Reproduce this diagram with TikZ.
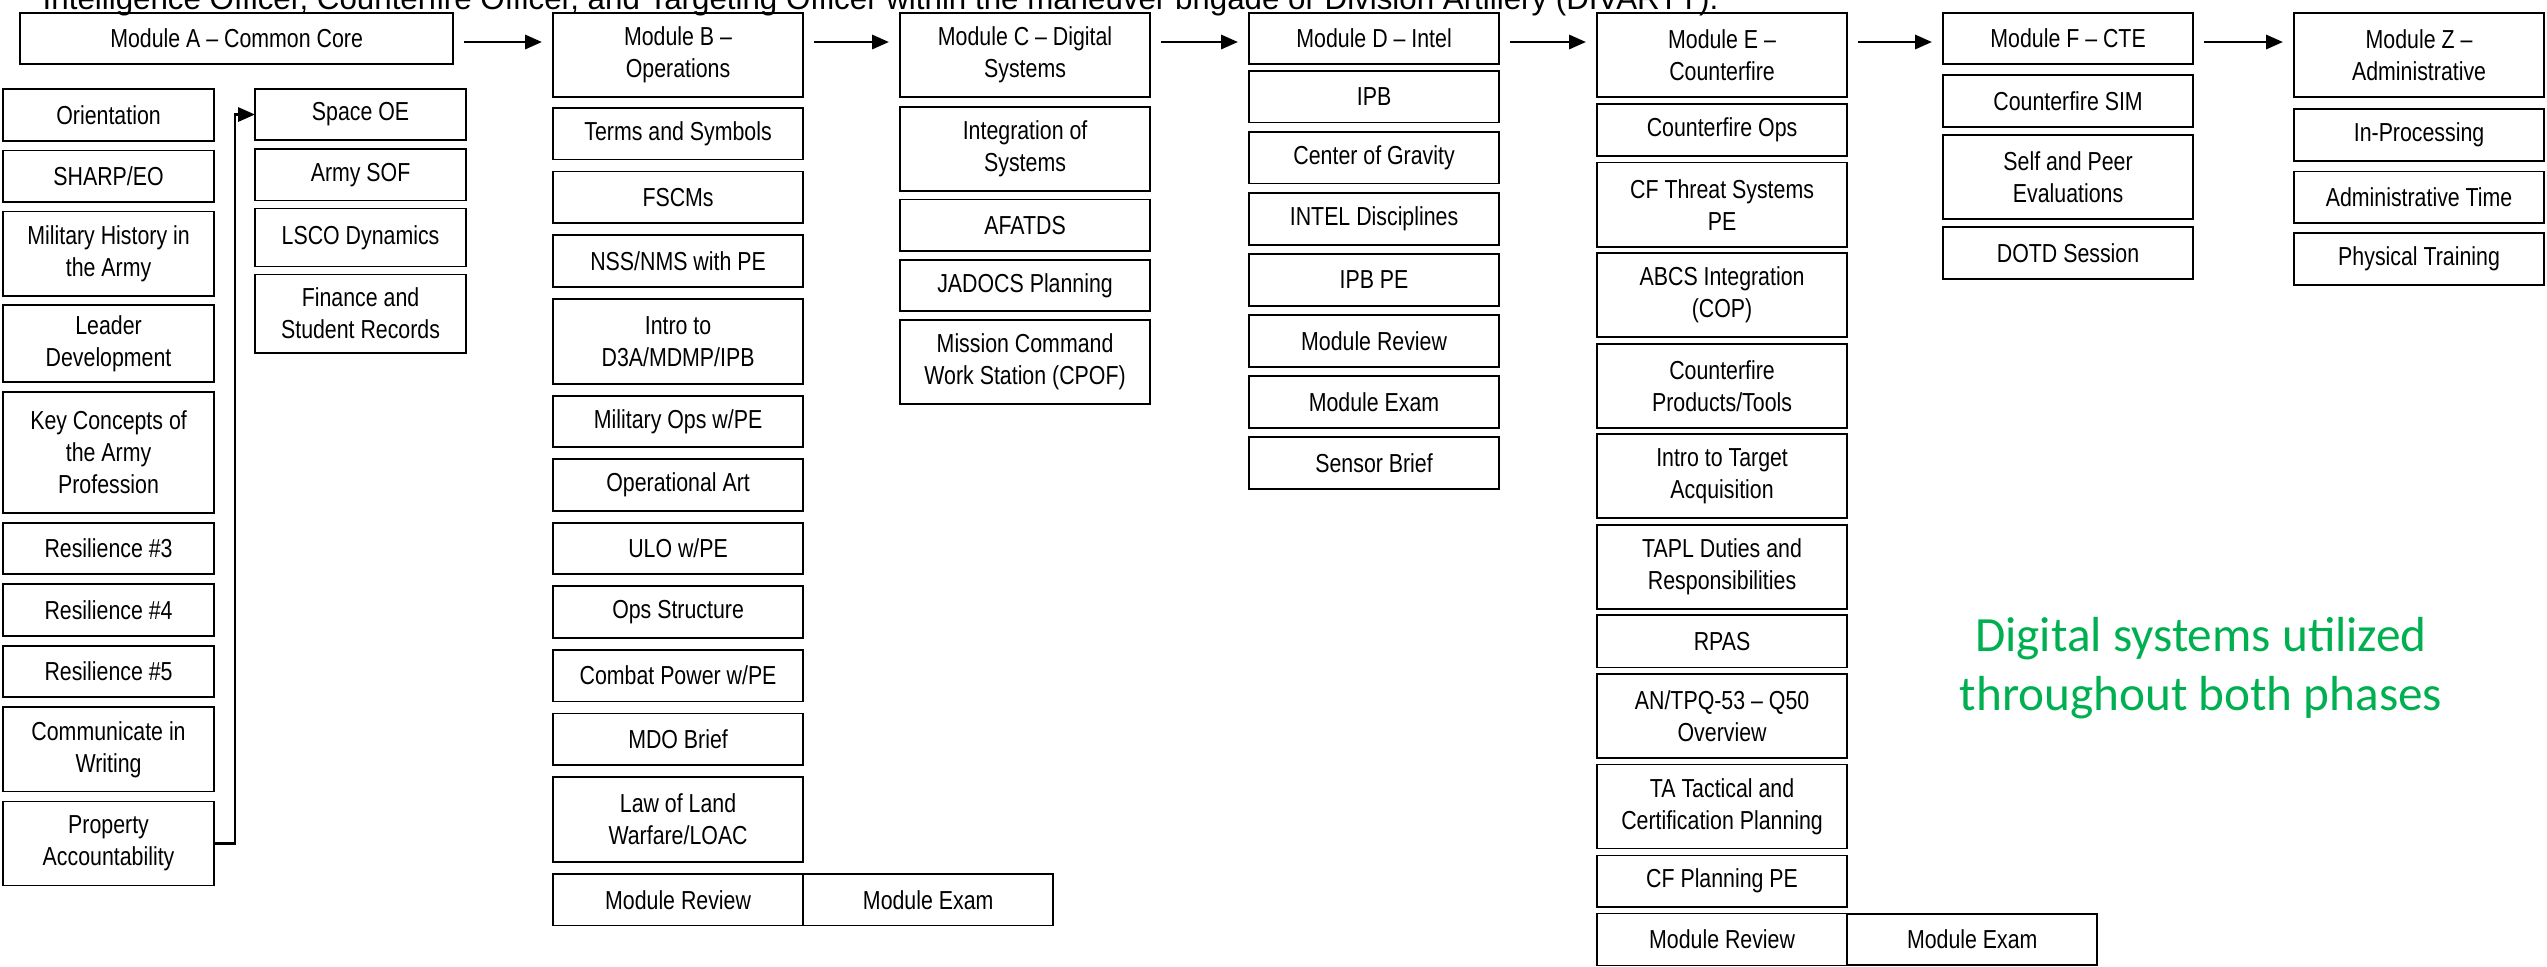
\documentclass[tikz,border=0pt]{standalone}
\usepackage{fontspec}
\newfontfamily\boxfont[FakeStretch=0.82]{Liberation Sans}
\newfontfamily\headfont{Liberation Sans}
\newfontfamily\notefont{Carlito}
\usepackage{xcolor}
\definecolor{NoteGreen}{HTML}{00B050}
\usetikzlibrary{positioning, calc, arrows.meta}
\tikzset{
  modulebox/.style={rectangle, draw=black, line width=0.5pt, outer sep=0pt, minimum width=2.5cm, minimum height=0.51cm, inner sep=1pt, align=center, font=\boxfont\fontsize{7.4}{9.1}\selectfont},
  topicbox/.style={rectangle, draw=black, line width=0.5pt, outer sep=0pt, minimum width=2.5cm, minimum height=0.515cm, inner sep=1pt, align=center, font=\boxfont\fontsize{7.4}{9.1}\selectfont},
  twoline/.style={minimum height=0.84cm},
  narrowcol/.style={minimum width=2.11cm},
  flowarrow/.style={-{Triangle[length=4.8pt, width=4pt]}, line width=0.8pt, shorten <=0.11cm, shorten >=0.11cm},
  linkarrow/.style={-{Triangle[length=4.8pt, width=4pt]}, line width=0.75pt}
}

\begin{document}
\begin{tikzpicture}[x=0.01cm, y=0.01cm]
  \useasboundingbox (0,0) rectangle (2547,-966);
  \clip (0,0) rectangle (2547,-966);

  \node[anchor=base west, inner sep=0pt, font=\headfont\fontsize{8.9}{10.7}\selectfont] (header) at (42,-9) {Intelligence Officer, Counterfire Officer, and Targeting Officer within the maneuver brigade or Division Artillery (DIVARTY).};

  % module headers
  \node[modulebox, anchor=north west, minimum width=4.33cm] (modA) at (20,-13) {Module A – Common Core};
  \node[modulebox, twoline, anchor=north west] (modB) at (553,-13) {Module B –\\Operations};
  \node[modulebox, twoline, anchor=north west] (modC) at (900,-13) {Module C – Digital\\Systems};
  \node[modulebox, anchor=north west] (modD) at (1249,-13) {Module D – Intel};
  \node[modulebox, twoline, anchor=north west] (modE) at (1597,-13) {Module E –\\Counterfire};
  \node[modulebox, anchor=north west] (modF) at (1943,-13) {Module F – CTE};
  \node[modulebox, twoline, anchor=north west] (modZ) at (2294,-13) {Module Z –\\Administrative};

  \draw[flowarrow] ($(modA.north east)+(0,-29)$) -- ($(modB.north west)+(0,-29)$);
  \draw[flowarrow] ($(modB.north east)+(0,-29)$) -- ($(modC.north west)+(0,-29)$);
  \draw[flowarrow] ($(modC.north east)+(0,-29)$) -- ($(modD.north west)+(0,-29)$);
  \draw[flowarrow] ($(modD.north east)+(0,-29)$) -- ($(modE.north west)+(0,-29)$);
  \draw[flowarrow] ($(modE.north east)+(0,-29)$) -- ($(modF.north west)+(0,-29)$);
  \draw[flowarrow] ($(modF.north east)+(0,-29)$) -- ($(modZ.north west)+(0,-29)$);

  % module A
  \node[topicbox, narrowcol, anchor=north west, minimum height=0.52cm] (orient) at (3,-89) {Orientation};
  \node[topicbox, narrowcol, below=0.095cm of orient] (sharp) {SHARP/EO};
  \node[topicbox, narrowcol, twoline, below=0.095cm of sharp] (milhist) {Military History in\\the Army};
  \node[topicbox, narrowcol, minimum height=0.77cm, below=0.095cm of milhist] (leader) {Leader\\Development};
  \node[topicbox, narrowcol, minimum height=1.21cm, below=0.095cm of leader] (keycon) {Key Concepts of\\the Army\\Profession};
  \node[topicbox, narrowcol, below=0.10cm of keycon] (res3) {Resilience \#3};
  \node[topicbox, narrowcol, below=0.10cm of res3] (res4) {Resilience \#4};
  \node[topicbox, narrowcol, below=0.10cm of res4] (res5) {Resilience \#5};
  \node[topicbox, narrowcol, twoline, below=0.10cm of res5] (comm) {Communicate in\\Writing};
  \node[topicbox, narrowcol, twoline, below=0.10cm of comm] (prop) {Property\\Accountability};

  \node[topicbox, narrowcol, anchor=north west, minimum height=0.51cm] (spaceoe) at (255,-89) {Space OE};
  \node[topicbox, narrowcol, below=0.09cm of spaceoe] (armysof) {Army SOF};
  \node[topicbox, narrowcol, minimum height=0.58cm, below=0.08cm of armysof] (lsco) {LSCO Dynamics};
  \node[topicbox, narrowcol, minimum height=0.78cm, below=0.08cm of lsco] (finance) {Finance and\\Student Records};

  \draw[linkarrow] (prop.east) -- ++(21,0) |- (spaceoe.west);

  % module B
  \node[topicbox, below=0.11cm of modB] (terms) {Terms and Symbols};
  \node[topicbox, below=0.12cm of terms] (fscm) {FSCMs};
  \node[topicbox, below=0.12cm of fscm] (nss) {NSS/NMS with PE};
  \node[topicbox, minimum height=0.85cm, below=0.12cm of nss] (introd3a) {Intro to\\D3A/MDMP/IPB};
  \node[topicbox, below=0.12cm of introd3a] (milops) {Military Ops w/PE};
  \node[topicbox, below=0.12cm of milops] (opart) {Operational Art};
  \node[topicbox, below=0.12cm of opart] (ulo) {ULO w/PE};
  \node[topicbox, below=0.12cm of ulo] (opsstr) {Ops Structure};
  \node[topicbox, below=0.12cm of opsstr] (combat) {Combat Power w/PE};
  \node[topicbox, below=0.12cm of combat] (mdo) {MDO Brief};
  \node[topicbox, minimum height=0.85cm, below=0.12cm of mdo] (law) {Law of Land\\Warfare/LOAC};
  \node[topicbox, below=0.12cm of law] (reviewB) {Module Review};
  \node[topicbox, right=0pt of reviewB] (examB) {Module Exam};

  % module C
  \node[topicbox, twoline, below=0.10cm of modC] (integ) {Integration of\\Systems};
  \node[topicbox, below=0.085cm of integ] (afatds) {AFATDS};
  \node[topicbox, below=0.085cm of afatds] (jadocs) {JADOCS Planning};
  \node[topicbox, twoline, below=0.09cm of jadocs] (mission) {Mission Command\\Work Station (CPOF)};

  % module D
  \node[topicbox, below=0.07cm of modD] (ipb) {IPB};
  \node[topicbox, below=0.095cm of ipb] (cog) {Center of Gravity};
  \node[topicbox, below=0.095cm of cog] (intel) {INTEL Disciplines};
  \node[topicbox, below=0.095cm of intel] (ipbpe) {IPB PE};
  \node[topicbox, below=0.095cm of ipbpe] (reviewD) {Module Review};
  \node[topicbox, below=0.095cm of reviewD] (examD) {Module Exam};
  \node[topicbox, below=0.095cm of examD] (sensor) {Sensor Brief};

  % module E
  \node[topicbox, minimum height=0.52cm, below=0.07cm of modE] (cfops) {Counterfire Ops};
  \node[topicbox, twoline, below=0.065cm of cfops] (cfthreat) {CF Threat Systems\\PE};
  \node[topicbox, twoline, below=0.065cm of cfthreat] (abcs) {ABCS Integration\\(COP)};
  \node[topicbox, twoline, below=0.065cm of abcs] (products) {Counterfire\\Products/Tools};
  \node[topicbox, twoline, below=0.065cm of products] (introta) {Intro to Target\\Acquisition};
  \node[topicbox, twoline, below=0.065cm of introta] (tapl) {TAPL Duties and\\Responsibilities};
  \node[topicbox, minimum height=0.52cm, below=0.065cm of tapl] (rpas) {RPAS};
  \node[topicbox, twoline, below=0.065cm of rpas] (antpq) {AN/TPQ-53 – Q50\\Overview};
  \node[topicbox, twoline, below=0.065cm of antpq] (tatac) {TA Tactical and\\Certification Planning};
  \node[topicbox, below=0.07cm of tatac] (cfplan) {CF Planning PE};
  \node[topicbox, minimum height=0.52cm, below=0.065cm of cfplan] (reviewE) {Module Review};
  \node[topicbox, right=0pt of reviewE] (examE) {Module Exam};

  % module F
  \node[topicbox, minimum height=0.52cm, below=0.11cm of modF] (cfsim) {Counterfire SIM};
  \node[topicbox, twoline, below=0.08cm of cfsim] (selfpeer) {Self and Peer\\Evaluations};
  \node[topicbox, below=0.08cm of selfpeer] (dotd) {DOTD Session};

  % module Z
  \node[topicbox, minimum height=0.52cm, below=0.12cm of modZ] (inproc) {In-Processing};
  \node[topicbox, below=0.105cm of inproc] (admintime) {Administrative Time};
  \node[topicbox, below=0.10cm of admintime] (ptrain) {Physical Training};

  \node[inner sep=0pt, align=center, text=NoteGreen, font=\notefont\fontsize{14}{16.6}\selectfont] (note) at (2201,-668) {Digital systems utilized\\throughout both phases};
\end{tikzpicture}
\end{document}
